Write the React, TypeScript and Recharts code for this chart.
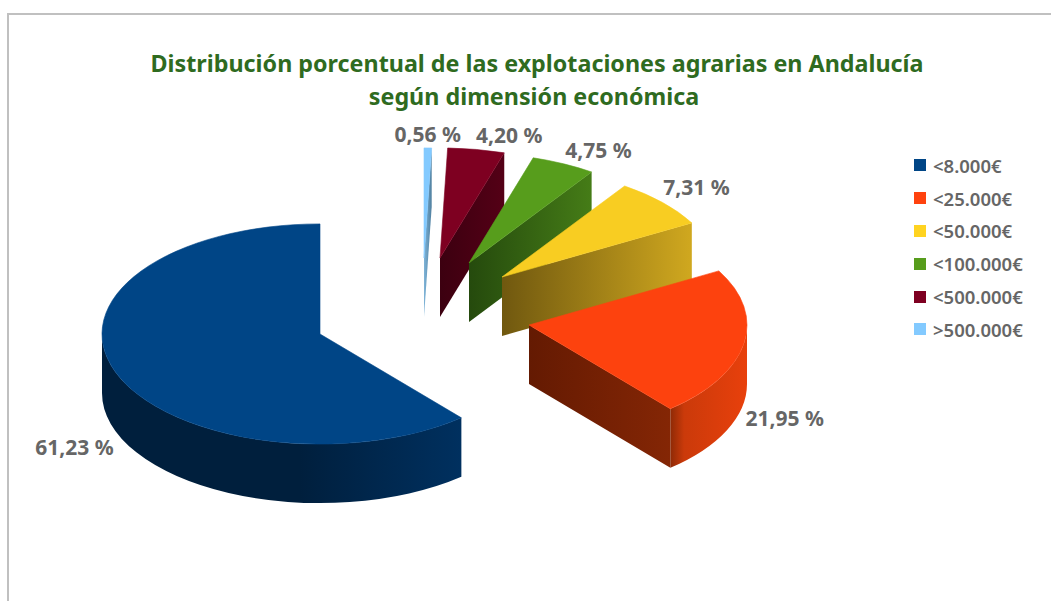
import React from "react";
import { PieChart, Pie, Legend } from "recharts";

const CATEGORIES = ["<8.000€", "<25.000€", "<50.000€", "<100.000€", "<500.000€", ">500.000€"];
const VALUES = [61.23, 21.95, 7.31, 4.75, 4.2, 0.56];
const COLORS = ["#004586", "#ff420e", "#ffd320", "#579d1c", "#7e0021", "#83caff"];
const TOP_FILLS = ["#004586", "#fd420e", "#f8cd22", "#579d1c", "#7e0021", "#83caff"];
const TITLE_LINES = [
  "Distribución porcentual de las explotaciones agrarias en Andalucía",
  "según dimensión económica",
];

// wall shading per category: [left colour, right colour] of cut face
const CUT_SHADE = [
  ["#001f3d", "#001f3d"],
  ["#641a02", "#842605"],
  ["#70580f", "#d0a81f"],
  ["#254a0d", "#457c17"],
  ["#3c0010", "#540016"],
  ["#7fb4d8", "#4f7f9f"],
];
// outer wall shading: [start colour, middle colour, end colour], middle offset
const WALL_SHADE = [
  ["#001f3d", "#001f3d", "#00305f"],
  ["#8f2a06", "#cb3a0a", "#e8400c"],
  ["#70580f", "#a08018", "#d0a81f"],
  ["#254a0d", "#355f12", "#457c17"],
  ["#3c0010", "#480013", "#540016"],
  ["#7fb4d8", "#6799bb", "#4f7f9f"],
];
const WALL_MID = [0.55, 0.18, 0.5, 0.5, 0.5, 0.5];
// explode offset of each slice from the pie centre
const EXPLODE = [
  [0, 0],
  [209, -9],
  [182, -57],
  [149, -71],
  [120, -76],
  [104, -76],
];
const LABEL_SHIFT = [
  [-41, 75],
  [41, 74],
  [34, -15],
  [35, -14],
  [33, -14],
  [0, -14],
];

const TILT = 0.505;
const DEPTH = 59;
const FONT = '"Noto Sans", sans-serif';

// painter's order: the nearest slice is drawn last, so the table runs backwards round the pie
const tableData = CATEGORIES.map((name, i) => ({ name, value: VALUES[i], fill: COLORS[i] })).reverse();

const rad = (d: number) => (d * Math.PI) / 180;

function Slice3D(props: any) {
  const { cx, cy, outerRadius: r, startAngle, endAngle } = props;
  const name = props.name ?? props.payload?.name;
  const idx = CATEGORIES.indexOf(name);
  const ax = cx + EXPLODE[idx][0];
  const ay = cy + EXPLODE[idx][1];
  const hi = Math.max(startAngle, endAngle);
  const lo = Math.min(startAngle, endAngle);
  const ry = r * TILT;
  const px = (a: number) => ax + r * Math.cos(rad(a));
  const py = (a: number) => ay - ry * Math.sin(rad(a));
  const large = hi - lo > 180 ? 1 : 0;
  const top = `M${ax},${ay} L${px(hi)},${py(hi)} A${r},${ry} 0 ${large} 1 ${px(lo)},${py(lo)} Z`;
  const showCut = Math.cos(rad(lo)) > 1e-6;
  const cut = `M${ax},${ay} L${px(lo)},${py(lo)} L${px(lo)},${py(lo) + DEPTH} L${ax},${ay + DEPTH} Z`;
  const wHi = Math.min(hi, 0);
  const wLo = Math.max(lo, -180);
  const showWall = wHi > wLo;
  const wLarge = wHi - wLo > 180 ? 1 : 0;
  const wall = `M${px(wHi)},${py(wHi)} A${r},${ry} 0 ${wLarge} 1 ${px(wLo)},${py(wLo)} L${px(wLo)},${py(wLo) + DEPTH} A${r},${ry} 0 ${wLarge} 0 ${px(wHi)},${py(wHi) + DEPTH} Z`;
  const cutId = `cut-${idx}`;
  const wallId = `wall-${idx}`;
  return (
    <g>
      <defs>
        <linearGradient id={cutId} x1="0" y1="0" x2="1" y2="0">
          <stop offset="0" stopColor={CUT_SHADE[idx][0]} />
          <stop offset="1" stopColor={CUT_SHADE[idx][1]} />
        </linearGradient>
        <linearGradient id={wallId} x1="0" y1="0" x2="1" y2="0">
          <stop offset="0" stopColor={WALL_SHADE[idx][0]} />
          <stop offset={WALL_MID[idx]} stopColor={WALL_SHADE[idx][1]} />
          <stop offset="1" stopColor={WALL_SHADE[idx][2]} />
        </linearGradient>
      </defs>
      {showWall && <path d={wall} fill={`url(#${wallId})`} />}
      {showCut && <path d={cut} fill={`url(#${cutId})`} />}
      <path d={top} fill={TOP_FILLS[idx]} stroke={TOP_FILLS[idx]} strokeWidth={0.6} strokeLinejoin="round" />
    </g>
  );
}

function SliceLabel(props: any) {
  const { cx, cy, outerRadius: r, midAngle, value } = props;
  const name = props.name ?? props.payload?.name;
  const idx = CATEGORIES.indexOf(name);
  const x = cx + EXPLODE[idx][0] + r * Math.cos(rad(midAngle)) + LABEL_SHIFT[idx][0];
  const y = cy + EXPLODE[idx][1] - r * TILT * Math.sin(rad(midAngle)) + LABEL_SHIFT[idx][1];
  return (
    <text x={x} y={y} textAnchor="middle" dominantBaseline="central" fill="#666666" fontFamily={FONT} fontWeight={700} fontSize={21}>
      {value.toFixed(2).replace(".", ",")} %
    </text>
  );
}

function LegendList({ payload }: any) {
  const items = [...(payload ?? [])].sort(
    (a: any, b: any) => CATEGORIES.indexOf(a.value) - CATEGORIES.indexOf(b.value)
  );
  return (
    <div>
      {items.map((it: any) => (
        <div key={it.value} style={{ display: "flex", alignItems: "center", height: 32.8 }}>
          <span style={{ width: 12, height: 12, background: COLORS[CATEGORIES.indexOf(it.value)], marginRight: 7, flex: "none" }} />
          <span style={{ color: "#666666", fontFamily: FONT, fontWeight: 600, fontSize: 18.5, whiteSpace: "nowrap" }}>{it.value}</span>
        </div>
      ))}
    </div>
  );
}

export default function App() {
  return (
    <div style={{ position: "absolute", left: 0, top: 0, width: 1051, height: 601, overflow: "hidden", background: "#fff" }}>
      <div style={{ position: "absolute", left: 7, top: 13, right: -10, bottom: -10, borderLeft: "2px solid #c0c0c0", borderTop: "2px solid #c0c0c0" }} />
      <div style={{ position: "absolute", left: 0, top: 0 }}>
        <PieChart width={1051} height={601} margin={{ top: 0, right: 0, bottom: 0, left: 0 }}>
          <text x={537} y={72} textAnchor="middle" fill="#2f6b1f" fontFamily={FONT} fontWeight={700} fontSize={23.3}>
            {TITLE_LINES[0]}
          </text>
          <text x={534} y={105} textAnchor="middle" fill="#2f6b1f" fontFamily={FONT} fontWeight={700} fontSize={23.3}>
            {TITLE_LINES[1]}
          </text>
          <Pie
            data={tableData}
            dataKey="value"
            nameKey="name"
            cx={320}
            cy={334}
            innerRadius={0}
            outerRadius={218}
            startAngle={90}
            endAngle={-270}
            stroke="none"
            shape={Slice3D}
            label={SliceLabel}
            labelLine={false}
            isAnimationActive={false}
          />
          <Legend
            layout="vertical"
            align="right"
            verticalAlign="top"
            content={LegendList}
            wrapperStyle={{ position: "absolute", left: 914, top: 149, width: 130 }}
          />
        </PieChart>
      </div>
    </div>
  );
}
